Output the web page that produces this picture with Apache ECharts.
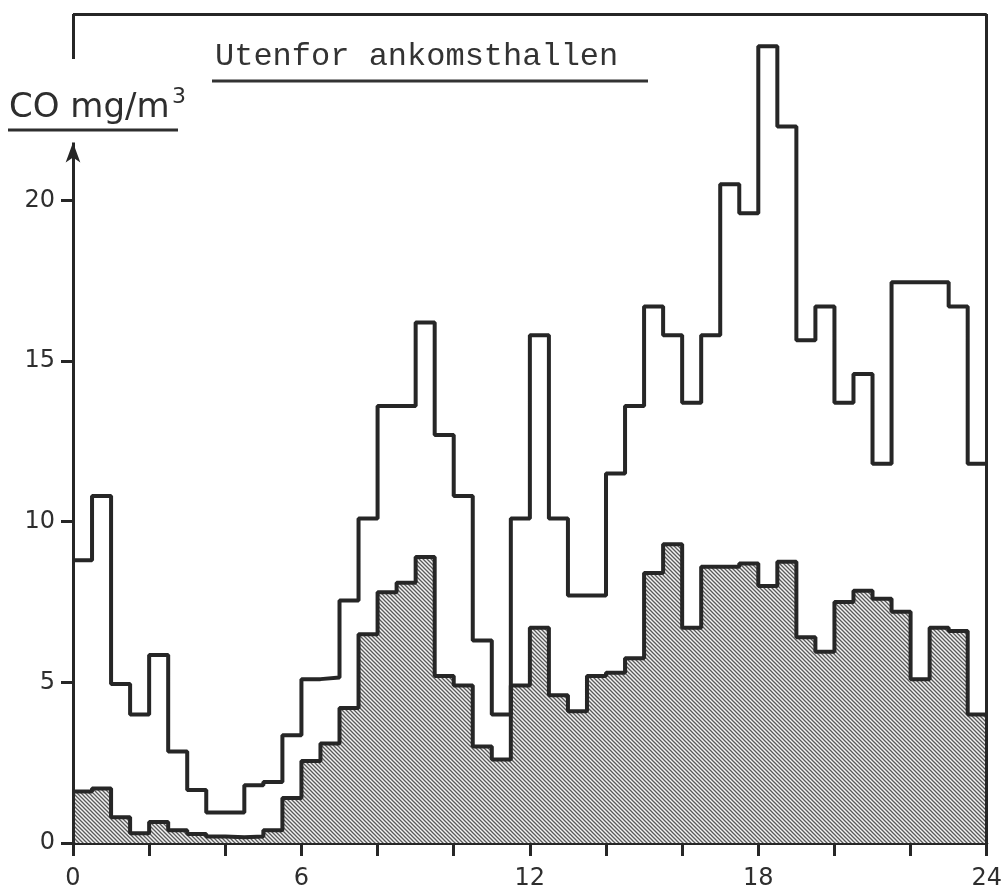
<!DOCTYPE html>
<html>
<head>
<meta charset="utf-8">
<script src="https://cdn.jsdelivr.net/npm/echarts@6/dist/echarts.min.js"></script>
<style>
  html, body { margin: 0; padding: 0; background: #fff; }
  #chart { width: 1005px; height: 891px; }
</style>
</head>
<body>
<div id="chart"></div>
<script>
// CO concentration (mg/m3) outside the arrivals hall, half-hour steps over 24 h
const BIN_HOURS = 0.5;

// Upper envelope (highest half-hour value)
const upperValues = [
  8.8, 10.8, 4.95, 4.0, 5.85, 2.85, 1.65, 0.95, 0.95, 1.8, 1.9, 3.35,
  5.1, 5.15, 7.55, 10.1, 13.6, 13.6, 16.2, 12.7, 10.8, 6.3, 4.0, 10.1,
  15.8, 10.1, 7.7, 7.7, 11.5, 13.6, 16.7, 15.8, 13.7, 15.8, 20.5, 19.6,
  24.8, 22.3, 15.65, 16.7, 13.7, 14.6, 11.8, 17.45, 17.45, 17.45, 16.7, 11.8
];

// Hatched series (mean half-hour value)
const lowerValues = [
  1.6, 1.7, 0.8, 0.3, 0.65, 0.4, 0.28, 0.2, 0.18, 0.2, 0.4, 1.4,
  2.55, 3.1, 4.2, 6.5, 7.8, 8.1, 8.9, 5.2, 4.9, 3.0, 2.6, 4.9,
  6.7, 4.6, 4.1, 5.2, 5.3, 5.75, 8.4, 9.3, 6.7, 8.6, 8.6, 8.7,
  8.0, 8.75, 6.4, 5.95, 7.5, 7.85, 7.6, 7.2, 5.1, 6.7, 6.6, 4.0
];

const xTickLabels = [0, 6, 12, 18, 24];
const yTickLabels = [0, 5, 10, 15, 20];
const X_MAX = 24;
const Y_MAX = 25.8;      // top of the frame
const ARROW_TOP = 21.8;  // tip of the value-axis arrow
const FRAME_GAP_TOP = 24.4; // where the left frame resumes above the unit label

// Step data: each value starts at its bin and holds until the next one
function toSteps(values) {
  const pts = values.map((v, i) => [i * BIN_HOURS, v]);
  pts.push([values.length * BIN_HOURS, values[values.length - 1]]);
  return pts;
}

// Diagonal hatch fill
function hatchPattern() {
  const c = document.createElement('canvas');
  const s = 4;
  c.width = s; c.height = s;
  const g = c.getContext('2d');
  g.fillStyle = '#f2f2f2';
  g.fillRect(0, 0, s, s);
  g.strokeStyle = '#5a5a5a';
  g.lineWidth = 1.3;
  g.beginPath();
  g.moveTo(-1, -1); g.lineTo(s + 1, s + 1);
  g.moveTo(-1, s - 1); g.lineTo(1, s + 1);
  g.moveTo(s - 1, -1); g.lineTo(s + 1, 1);
  g.stroke();
  return c;
}

const INK = '#262626';
const chart = echarts.init(document.getElementById('chart'), null, { renderer: 'canvas' });

chart.setOption({
  animation: false,
  backgroundColor: '#ffffff',
  grid: { left: 73, right: 12, top: 14, bottom: 48, containLabel: false },
  xAxis: {
    type: 'value',
    min: 0, max: X_MAX, interval: 2,
    axisLine: { show: true, lineStyle: { color: INK, width: 3 } },
    axisTick: { show: true, length: 13, lineStyle: { color: INK, width: 3 } },
    axisLabel: {
      customValues: xTickLabels,
      margin: 24,
      color: '#2e2e2e',
      fontFamily: 'DejaVu Sans',
      fontSize: 24
    },
    splitLine: { show: false }
  },
  yAxis: {
    type: 'value',
    min: 0, max: Y_MAX,
    axisLine: { show: false },
    axisTick: { show: true, customValues: yTickLabels, length: 12, lineStyle: { color: INK, width: 3 } },
    axisLabel: {
      customValues: yTickLabels,
      margin: 18,
      color: '#2e2e2e',
      fontFamily: 'DejaVu Sans',
      fontSize: 24
    },
    splitLine: { show: false }
  },
  series: [
    {
      name: 'mean',
      type: 'line',
      step: 'end',
      data: toSteps(lowerValues),
      showSymbol: false,
      clip: false,
      z: 2,
      lineStyle: { color: INK, width: 4 },
      areaStyle: { color: { image: hatchPattern(), repeat: 'repeat' }, opacity: 1, origin: 0 }
    },
    {
      name: 'max',
      type: 'line',
      step: 'end',
      data: toSteps(upperValues),
      showSymbol: false,
      clip: false,
      z: 3,
      lineStyle: { color: INK, width: 4 },
      markLine: {
        silent: true,
        symbol: ['none', 'none'],
        label: { show: false },
        lineStyle: { color: INK, width: 3, type: 'solid' },
        data: [
          [{ coord: [0, 0] }, { coord: [0, ARROW_TOP], symbol: 'arrow', symbolSize: [11, 20] }],
          [{ coord: [0, FRAME_GAP_TOP] }, { coord: [0, Y_MAX] }],
          [{ coord: [0, Y_MAX] }, { coord: [X_MAX, Y_MAX] }],
          [{ coord: [X_MAX, 0] }, { coord: [X_MAX, Y_MAX] }]
        ]
      }
    }
  ],
  graphic: [
    {
      type: 'text',
      left: 215, top: 41,
      style: { text: 'Utenfor ankomsthallen', font: '32px "Liberation Mono"', fill: '#333' }
    },
    {
      type: 'line',
      shape: { x1: 212, y1: 81, x2: 648, y2: 81 },
      style: { stroke: '#333', lineWidth: 3 }
    },
    {
      type: 'text',
      left: 9, top: 91,
      style: { text: 'CO mg/m', font: '34px "DejaVu Sans"', fill: '#2e2e2e' }
    },
    {
      type: 'text',
      left: 172, top: 86,
      style: { text: '3', font: '22px "DejaVu Sans"', fill: '#2e2e2e' }
    },
    {
      type: 'line',
      shape: { x1: 8, y1: 130, x2: 178, y2: 130 },
      style: { stroke: '#2e2e2e', lineWidth: 3 }
    }
  ]
});
</script>
</body>
</html>
